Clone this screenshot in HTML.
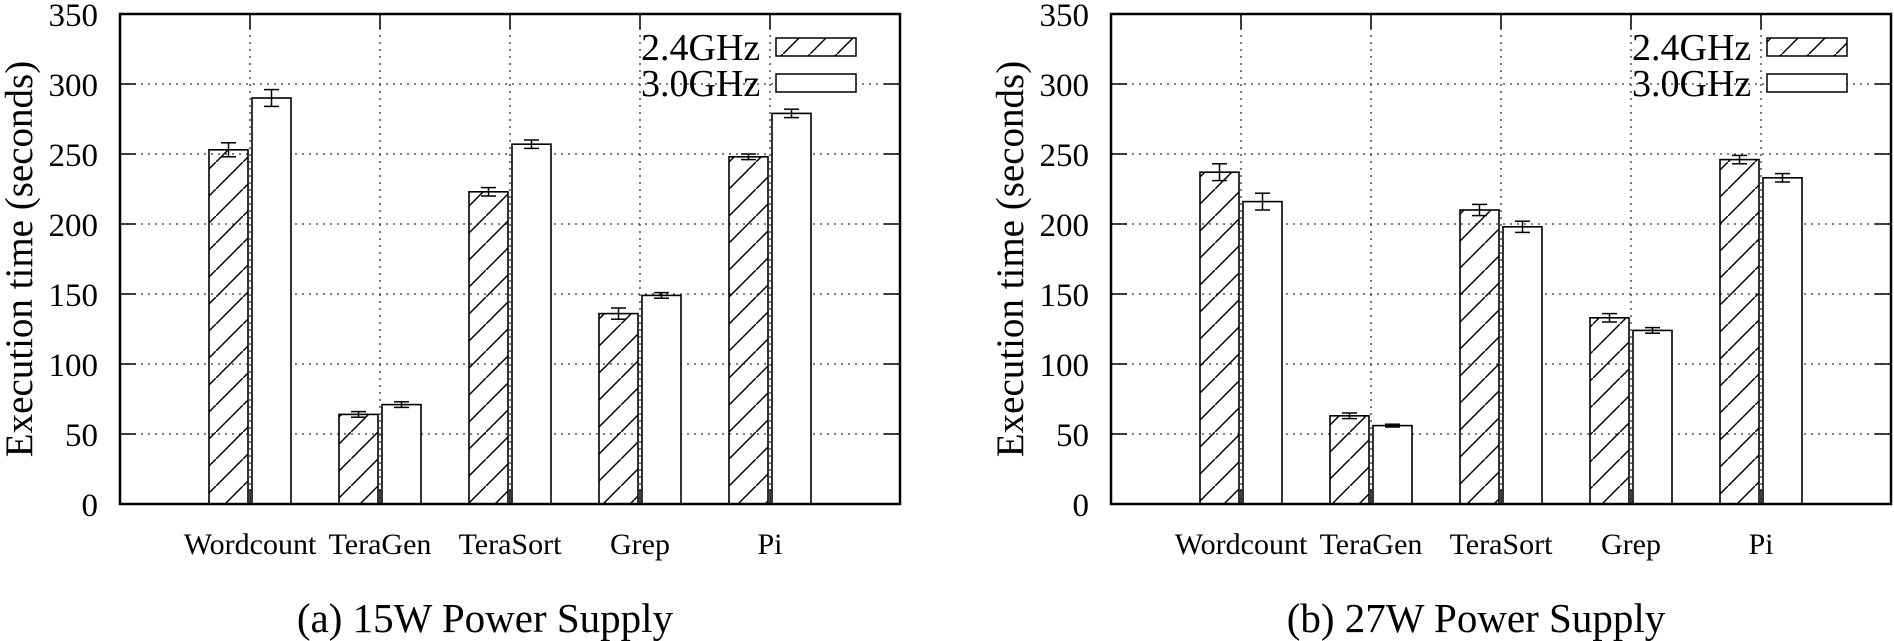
<!DOCTYPE html>
<html><head><style>
html,body{margin:0;padding:0;background:#fff;}
svg{display:block;}
text{font-family:"Liberation Serif",serif;fill:#000;}
</style></head><body>
<svg width="1894" height="641" viewBox="0 0 1894 641" xmlns="http://www.w3.org/2000/svg">
<defs>
<pattern id="h" patternUnits="userSpaceOnUse" width="27" height="27">
<line x1="-2" y1="29" x2="29" y2="-2" stroke="#000" stroke-width="1.5"/>
</pattern>
</defs>
<g id="charts"></g>
</svg>
<script>
(function(){
const svg=document.querySelector('#charts');
const NS='http://www.w3.org/2000/svg';
function el(t,a,txt){const e=document.createElementNS(NS,t);for(const k in a)e.setAttribute(k,a[k]);if(txt!==undefined)e.textContent=txt;svg.appendChild(e);return e;}
const cats=['Wordcount','TeraGen','TeraSort','Grep','Pi'];
const data=[
 {off:0,cap:'(a) 15W Power Supply',a:[253,64,223,136,248],ae:[5,2,3,4,2],b:[290,71,257,149,279],be:[6,2,3,2,3]},
 {off:991,cap:'(b) 27W Power Supply',a:[237,63,210,133,246],ae:[6,2,4,3,3],b:[216,56,198,124,233],be:[6,1,4,2,3]}
];
const top=14,bot=504;
const Y=v=>bot-v*1.4;
data.forEach(d=>{
 const L=120+d.off,R=900+d.off;
 for(let v=50;v<=300;v+=50){
  el('line',{x1:L,x2:R,y1:Y(v),y2:Y(v),stroke:'#333','stroke-width':1.3,'stroke-dasharray':'2,5'});
 }
 for(let i=0;i<5;i++){
  const x=250+130*i+d.off;
  el('line',{x1:x,x2:x,y1:top,y2:bot,stroke:'#333','stroke-width':1.3,'stroke-dasharray':'2,5'});
  el('line',{x1:x,x2:x,y1:top,y2:top+15,stroke:'#000','stroke-width':1.5});
  el('line',{x1:x,x2:x,y1:bot,y2:bot-15,stroke:'#000','stroke-width':1.5});
  el('text',{x:x,y:554,'font-size':30,'text-anchor':'middle'},cats[i]);
 }
 for(let v=0;v<=350;v+=50){
  el('line',{x1:L,x2:L+16,y1:Y(v),y2:Y(v),stroke:'#000','stroke-width':1.5});
  el('line',{x1:R,x2:R-16,y1:Y(v),y2:Y(v),stroke:'#000','stroke-width':1.5});
  el('text',{x:L-22,y:Y(v)+12,'font-size':33,'text-anchor':'end'},String(v));
 }
 for(let i=0;i<5;i++){
  const c=250+130*i+d.off;
  const bars=[[c-41,d.a[i],d.ae[i],'url(#h)'],[c+2,d.b[i],d.be[i],'#fff']];
  bars.forEach(([x,v,e,f])=>{
   el('rect',{x:x,y:Y(v),width:39,height:bot-Y(v),fill:f,stroke:'#000','stroke-width':1.6});
   const cx=x+19.5;
   el('line',{x1:cx,x2:cx,y1:Y(v+e),y2:Y(v-e),stroke:'#000','stroke-width':1.5});
   el('line',{x1:cx-7.5,x2:cx+7.5,y1:Y(v+e),y2:Y(v+e),stroke:'#000','stroke-width':1.5});
   el('line',{x1:cx-7.5,x2:cx+7.5,y1:Y(v-e),y2:Y(v-e),stroke:'#000','stroke-width':1.5});
  });
 }
 el('rect',{x:L,y:top,width:R-L,height:bot-top,fill:'none',stroke:'#000','stroke-width':2.5});
 el('text',{x:641+d.off,y:60,'font-size':38},'2.4GHz');
 el('text',{x:641+d.off,y:96,'font-size':38},'3.0GHz');
 el('rect',{x:776+d.off,y:38,width:80,height:18,fill:'url(#h)',stroke:'#000','stroke-width':1.5});
 el('rect',{x:776+d.off,y:74,width:80,height:18,fill:'#fff',stroke:'#000','stroke-width':1.5});
 el('text',{x:0,y:0,'font-size':39,'text-anchor':'middle',transform:`translate(${32+d.off},259) rotate(-90)`},'Execution time (seconds)');
 el('text',{x:(L+R)/2-25,y:632,'font-size':41,'text-anchor':'middle'},d.cap);
});
})();
</script>
</body></html>
